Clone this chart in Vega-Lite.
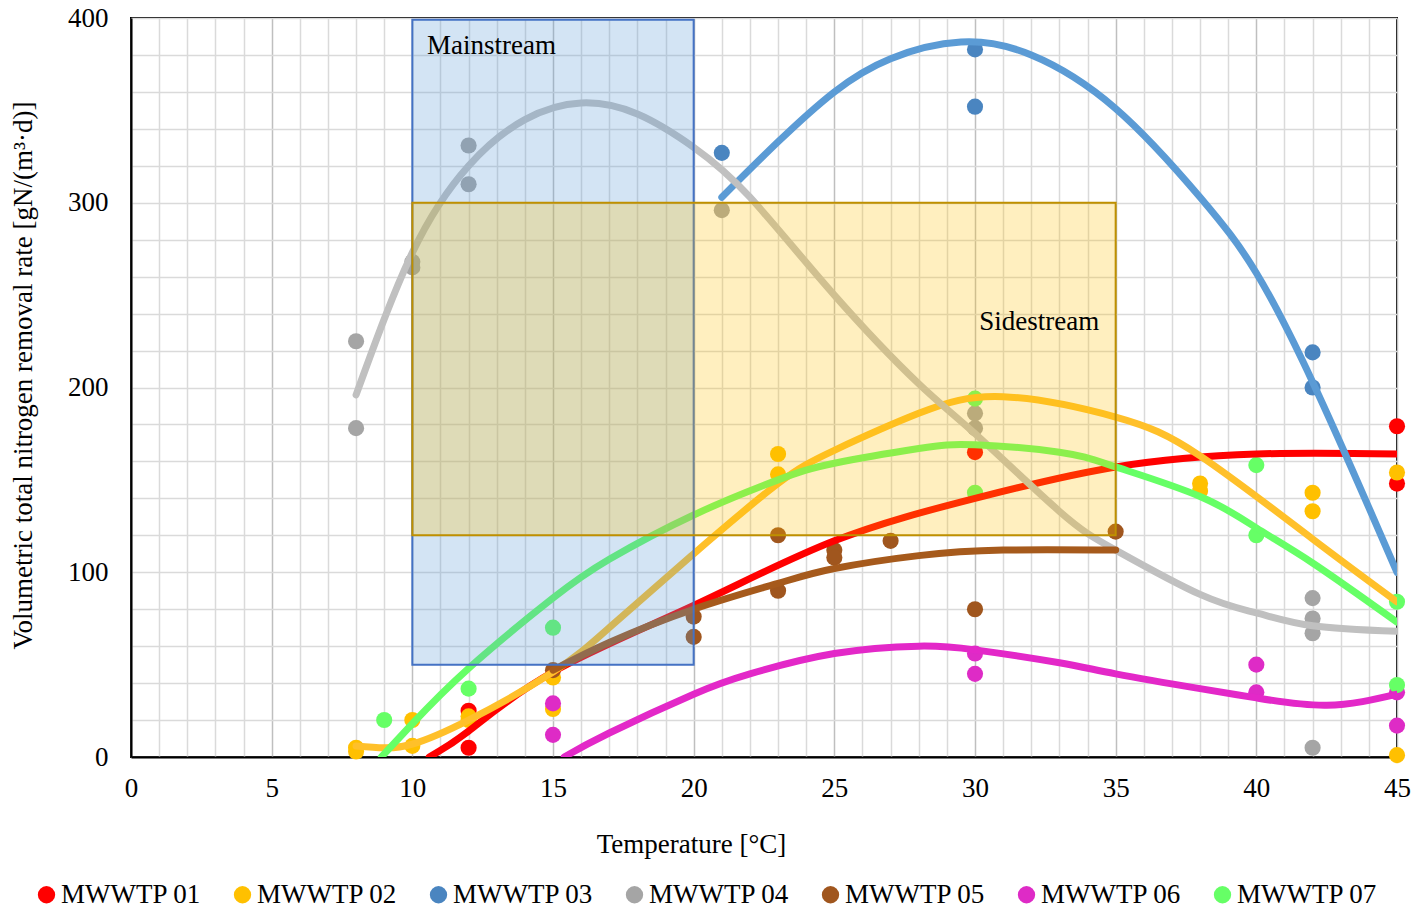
{
  "$schema": "https://vega.github.io/schema/vega-lite/v6.json",
  "width": 1266,
  "height": 739,
  "autosize": {"type": "none"},
  "padding": {"left": 131, "top": 18, "right": 20, "bottom": 155},
  "background": "white",
  "config": {
    "font": "Liberation Serif",
    "view": {"stroke": "#000000", "strokeWidth": 2},
    "axis": {
      "labelFont": "Liberation Serif",
      "titleFont": "Liberation Serif",
      "labelFontSize": 27,
      "titleFontSize": 27,
      "labelColor": "#000000",
      "titleColor": "#000000",
      "titleFontWeight": "normal",
      "ticks": false,
      "labelFlush": false,
      "domainColor": "#000000",
      "domainWidth": 2,
      "gridWidth": 1.5
    }
  },
  "datasets": {
    "obs": [
      {"plant": "MWWTP 01", "t": 12, "v": 25},
      {"plant": "MWWTP 01", "t": 12, "v": 5},
      {"plant": "MWWTP 01", "t": 30, "v": 165},
      {"plant": "MWWTP 01", "t": 45, "v": 179},
      {"plant": "MWWTP 01", "t": 45, "v": 148},
      {"plant": "MWWTP 02", "t": 8, "v": 5},
      {"plant": "MWWTP 02", "t": 8, "v": 3},
      {"plant": "MWWTP 02", "t": 10, "v": 20},
      {"plant": "MWWTP 02", "t": 10, "v": 6},
      {"plant": "MWWTP 02", "t": 12, "v": 22},
      {"plant": "MWWTP 02", "t": 12, "v": 20},
      {"plant": "MWWTP 02", "t": 15, "v": 26},
      {"plant": "MWWTP 02", "t": 15, "v": 43},
      {"plant": "MWWTP 02", "t": 23, "v": 164},
      {"plant": "MWWTP 02", "t": 23, "v": 153},
      {"plant": "MWWTP 02", "t": 38, "v": 148},
      {"plant": "MWWTP 02", "t": 38, "v": 144},
      {"plant": "MWWTP 02", "t": 42, "v": 143},
      {"plant": "MWWTP 02", "t": 42, "v": 133},
      {"plant": "MWWTP 02", "t": 45, "v": 154},
      {"plant": "MWWTP 02", "t": 45, "v": 1},
      {"plant": "MWWTP 03", "t": 21, "v": 327},
      {"plant": "MWWTP 03", "t": 30, "v": 383},
      {"plant": "MWWTP 03", "t": 30, "v": 352},
      {"plant": "MWWTP 03", "t": 42, "v": 219},
      {"plant": "MWWTP 03", "t": 42, "v": 200},
      {"plant": "MWWTP 04", "t": 8, "v": 225},
      {"plant": "MWWTP 04", "t": 8, "v": 178},
      {"plant": "MWWTP 04", "t": 10, "v": 268},
      {"plant": "MWWTP 04", "t": 10, "v": 265},
      {"plant": "MWWTP 04", "t": 12, "v": 331},
      {"plant": "MWWTP 04", "t": 12, "v": 310},
      {"plant": "MWWTP 04", "t": 21, "v": 296},
      {"plant": "MWWTP 04", "t": 30, "v": 186},
      {"plant": "MWWTP 04", "t": 30, "v": 178},
      {"plant": "MWWTP 04", "t": 42, "v": 86},
      {"plant": "MWWTP 04", "t": 42, "v": 75},
      {"plant": "MWWTP 04", "t": 42, "v": 67},
      {"plant": "MWWTP 04", "t": 42, "v": 5},
      {"plant": "MWWTP 05", "t": 15, "v": 47},
      {"plant": "MWWTP 05", "t": 20, "v": 76},
      {"plant": "MWWTP 05", "t": 20, "v": 65},
      {"plant": "MWWTP 05", "t": 23, "v": 120},
      {"plant": "MWWTP 05", "t": 23, "v": 90},
      {"plant": "MWWTP 05", "t": 25, "v": 112},
      {"plant": "MWWTP 05", "t": 25, "v": 108},
      {"plant": "MWWTP 05", "t": 27, "v": 117},
      {"plant": "MWWTP 05", "t": 30, "v": 80},
      {"plant": "MWWTP 05", "t": 35, "v": 122},
      {"plant": "MWWTP 06", "t": 15, "v": 29},
      {"plant": "MWWTP 06", "t": 15, "v": 12},
      {"plant": "MWWTP 06", "t": 30, "v": 56},
      {"plant": "MWWTP 06", "t": 30, "v": 45},
      {"plant": "MWWTP 06", "t": 40, "v": 50},
      {"plant": "MWWTP 06", "t": 40, "v": 35},
      {"plant": "MWWTP 06", "t": 45, "v": 35},
      {"plant": "MWWTP 06", "t": 45, "v": 17},
      {"plant": "MWWTP 07", "t": 9, "v": 20},
      {"plant": "MWWTP 07", "t": 12, "v": 37},
      {"plant": "MWWTP 07", "t": 15, "v": 70},
      {"plant": "MWWTP 07", "t": 30, "v": 194},
      {"plant": "MWWTP 07", "t": 30, "v": 143},
      {"plant": "MWWTP 07", "t": 40, "v": 158},
      {"plant": "MWWTP 07", "t": 40, "v": 120},
      {"plant": "MWWTP 07", "t": 45, "v": 84},
      {"plant": "MWWTP 07", "t": 45, "v": 39}
    ],
    "trend": [
      {"plant": "MWWTP 01", "t": 10.6, "v": 0},
      {"plant": "MWWTP 01", "t": 12, "v": 14},
      {"plant": "MWWTP 01", "t": 15, "v": 46},
      {"plant": "MWWTP 01", "t": 20, "v": 82},
      {"plant": "MWWTP 01", "t": 25, "v": 117},
      {"plant": "MWWTP 01", "t": 30, "v": 140},
      {"plant": "MWWTP 01", "t": 35, "v": 157},
      {"plant": "MWWTP 01", "t": 40, "v": 164},
      {"plant": "MWWTP 01", "t": 45, "v": 164},
      {"plant": "MWWTP 02", "t": 8, "v": 6},
      {"plant": "MWWTP 02", "t": 9, "v": 5},
      {"plant": "MWWTP 02", "t": 10, "v": 7},
      {"plant": "MWWTP 02", "t": 12, "v": 20},
      {"plant": "MWWTP 02", "t": 15, "v": 46},
      {"plant": "MWWTP 02", "t": 17, "v": 70},
      {"plant": "MWWTP 02", "t": 20, "v": 110},
      {"plant": "MWWTP 02", "t": 23, "v": 148},
      {"plant": "MWWTP 02", "t": 25, "v": 166},
      {"plant": "MWWTP 02", "t": 28, "v": 186},
      {"plant": "MWWTP 02", "t": 31, "v": 195},
      {"plant": "MWWTP 02", "t": 35, "v": 184},
      {"plant": "MWWTP 02", "t": 38, "v": 163},
      {"plant": "MWWTP 02", "t": 42, "v": 118},
      {"plant": "MWWTP 02", "t": 45, "v": 84},
      {"plant": "MWWTP 03", "t": 21, "v": 303},
      {"plant": "MWWTP 03", "t": 23, "v": 333},
      {"plant": "MWWTP 03", "t": 25, "v": 360},
      {"plant": "MWWTP 03", "t": 27, "v": 378},
      {"plant": "MWWTP 03", "t": 29.5, "v": 387},
      {"plant": "MWWTP 03", "t": 32, "v": 380},
      {"plant": "MWWTP 03", "t": 35, "v": 351},
      {"plant": "MWWTP 03", "t": 38, "v": 303},
      {"plant": "MWWTP 03", "t": 40, "v": 262},
      {"plant": "MWWTP 03", "t": 42, "v": 203},
      {"plant": "MWWTP 03", "t": 44, "v": 135},
      {"plant": "MWWTP 03", "t": 45, "v": 100},
      {"plant": "MWWTP 04", "t": 8, "v": 196},
      {"plant": "MWWTP 04", "t": 10, "v": 273},
      {"plant": "MWWTP 04", "t": 12, "v": 320},
      {"plant": "MWWTP 04", "t": 14, "v": 345},
      {"plant": "MWWTP 04", "t": 16, "v": 354},
      {"plant": "MWWTP 04", "t": 18, "v": 348},
      {"plant": "MWWTP 04", "t": 20, "v": 330},
      {"plant": "MWWTP 04", "t": 22, "v": 303},
      {"plant": "MWWTP 04", "t": 25, "v": 250},
      {"plant": "MWWTP 04", "t": 28, "v": 202},
      {"plant": "MWWTP 04", "t": 30, "v": 175},
      {"plant": "MWWTP 04", "t": 33, "v": 133},
      {"plant": "MWWTP 04", "t": 35, "v": 112},
      {"plant": "MWWTP 04", "t": 38, "v": 88},
      {"plant": "MWWTP 04", "t": 40, "v": 78},
      {"plant": "MWWTP 04", "t": 42, "v": 71},
      {"plant": "MWWTP 04", "t": 45, "v": 68},
      {"plant": "MWWTP 05", "t": 15, "v": 47},
      {"plant": "MWWTP 05", "t": 17, "v": 62},
      {"plant": "MWWTP 05", "t": 20, "v": 80},
      {"plant": "MWWTP 05", "t": 23, "v": 94},
      {"plant": "MWWTP 05", "t": 25, "v": 102},
      {"plant": "MWWTP 05", "t": 28, "v": 109},
      {"plant": "MWWTP 05", "t": 31, "v": 112},
      {"plant": "MWWTP 05", "t": 35, "v": 112},
      {"plant": "MWWTP 06", "t": 15.4, "v": 0},
      {"plant": "MWWTP 06", "t": 17, "v": 13},
      {"plant": "MWWTP 06", "t": 20, "v": 34},
      {"plant": "MWWTP 06", "t": 22, "v": 45},
      {"plant": "MWWTP 06", "t": 25, "v": 56},
      {"plant": "MWWTP 06", "t": 28, "v": 60},
      {"plant": "MWWTP 06", "t": 30, "v": 58},
      {"plant": "MWWTP 06", "t": 33, "v": 51},
      {"plant": "MWWTP 06", "t": 35, "v": 45},
      {"plant": "MWWTP 06", "t": 38, "v": 37},
      {"plant": "MWWTP 06", "t": 40, "v": 32},
      {"plant": "MWWTP 06", "t": 42.5, "v": 28},
      {"plant": "MWWTP 06", "t": 45, "v": 34},
      {"plant": "MWWTP 07", "t": 8.9, "v": 0},
      {"plant": "MWWTP 07", "t": 10, "v": 18},
      {"plant": "MWWTP 07", "t": 12, "v": 48},
      {"plant": "MWWTP 07", "t": 15, "v": 86},
      {"plant": "MWWTP 07", "t": 17, "v": 107},
      {"plant": "MWWTP 07", "t": 20, "v": 131},
      {"plant": "MWWTP 07", "t": 23, "v": 150},
      {"plant": "MWWTP 07", "t": 25, "v": 159},
      {"plant": "MWWTP 07", "t": 28, "v": 167},
      {"plant": "MWWTP 07", "t": 30, "v": 169},
      {"plant": "MWWTP 07", "t": 33, "v": 165},
      {"plant": "MWWTP 07", "t": 35, "v": 157},
      {"plant": "MWWTP 07", "t": 38, "v": 141},
      {"plant": "MWWTP 07", "t": 40, "v": 124},
      {"plant": "MWWTP 07", "t": 42, "v": 105},
      {"plant": "MWWTP 07", "t": 45, "v": 73}
    ],
    "zones": [
      {"zone": "Mainstream", "t1": 10, "t2": 20, "v1": 50, "v2": 399, "lt": 10.52, "lv": 385},
      {"zone": "Sidestream", "t1": 10, "t2": 35, "v1": 120, "v2": 300, "lt": 30.15, "lv": 235.5}
    ]
  },
  "encoding": {
    "x": {
      "field": "t",
      "type": "quantitative",
      "scale": {"domain": [0, 45], "nice": false},
      "axis": {
        "title": "Temperature [°C]",
        "values": [0,1,2,3,4,5,6,7,8,9,10,11,12,13,14,15,16,17,18,19,20,21,22,23,24,25,26,27,28,29,30,31,32,33,34,35,36,37,38,39,40,41,42,43,44,45],
        "labelExpr": "datum.value % 5 === 0 ? datum.label : ''",
        "labelPadding": 18,
        "titlePadding": 30,
        "titleX": 560,
        "titleAnchor": "start",
        "titleAlign": "center",
        "grid": true,
        "gridColor": {"condition": {"test": "datum.value % 5 === 0", "value": "#bfbfbf"}, "value": "#dadada"}
      }
    },
    "y": {
      "field": "v",
      "type": "quantitative",
      "scale": {"domain": [0, 400], "nice": false},
      "axis": {
        "title": "Volumetric total nitrogen removal rate [gN/(m³·d)]",
        "values": [0,20,40,60,80,100,120,140,160,180,200,220,240,260,280,300,320,340,360,380,400],
        "labelExpr": "datum.value % 100 === 0 ? datum.label : ''",
        "labelPadding": 23,
        "titlePadding": 30,
        "titleY": 357,
        "titleAlign": "center",
        "grid": true,
        "gridColor": "#dadada"
      }
    }
  },
  "layer": [
    {
      "data": {"name": "obs"},
      "mark": {"type": "circle", "size": 260, "opacity": 1},
      "encoding": {
        "color": {
          "field": "plant",
          "type": "nominal",
          "scale": {
            "domain": ["MWWTP 01", "MWWTP 02", "MWWTP 03", "MWWTP 04", "MWWTP 05", "MWWTP 06", "MWWTP 07"],
            "range": ["#ff0000", "#ffc000", "#4a85c0", "#a5a5a5", "#a0561e", "#de2bc6", "#66ff66"]
          },
          "legend": {
            "title": null,
            "orient": "none",
            "direction": "horizontal",
            "columns": 7,
            "legendX": -98,
            "legendY": 863,
            "symbolType": "circle",
            "symbolSize": 300,
            "symbolStrokeWidth": 0,
            "symbolOpacity": 1,
            "labelFont": "Liberation Serif",
            "labelFontSize": 27,
            "labelColor": "#000000",
            "labelOffset": 1,
            "labelLimit": 300,
            "columnPadding": 27
          }
        }
      }
    },
    {
      "data": {"name": "trend"},
      "mark": {"type": "line", "strokeWidth": 7, "strokeCap": "round", "interpolate": "natural", "clip": true},
      "encoding": {
        "color": {
          "field": "plant",
          "type": "nominal",
          "scale": {
            "domain": ["MWWTP 01", "MWWTP 02", "MWWTP 03", "MWWTP 04", "MWWTP 05", "MWWTP 06", "MWWTP 07"],
            "range": ["#ff0000", "#ffc02a", "#5b9bd5", "#c0c0c0", "#a65a1c", "#e328c8", "#66ff66"]
          },
          "legend": null
        }
      }
    },
    {
      "data": {"name": "zones"},
      "transform": [{"filter": "datum.zone === 'Mainstream'"}],
      "mark": {"type": "rect", "fill": "#5b9bd5", "fillOpacity": 0.27, "stroke": "#4472c4", "strokeWidth": 2},
      "encoding": {
        "x": {"field": "t1", "type": "quantitative"},
        "x2": {"field": "t2"},
        "y": {"field": "v1", "type": "quantitative"},
        "y2": {"field": "v2"}
      }
    },
    {
      "data": {"name": "zones"},
      "transform": [{"filter": "datum.zone === 'Sidestream'"}],
      "mark": {"type": "rect", "fill": "#ffc000", "fillOpacity": 0.25, "stroke": "#bf9000", "strokeWidth": 2},
      "encoding": {
        "x": {"field": "t1", "type": "quantitative"},
        "x2": {"field": "t2"},
        "y": {"field": "v1", "type": "quantitative"},
        "y2": {"field": "v2"}
      }
    },
    {
      "data": {"name": "zones"},
      "mark": {"type": "text", "align": "left", "baseline": "middle", "font": "Liberation Serif", "fontSize": 27, "color": "#000000"},
      "encoding": {
        "x": {"field": "lt", "type": "quantitative"},
        "y": {"field": "lv", "type": "quantitative"},
        "text": {"field": "zone"}
      }
    }
  ],
  "resolve": {"scale": {"color": "independent"}}
}
